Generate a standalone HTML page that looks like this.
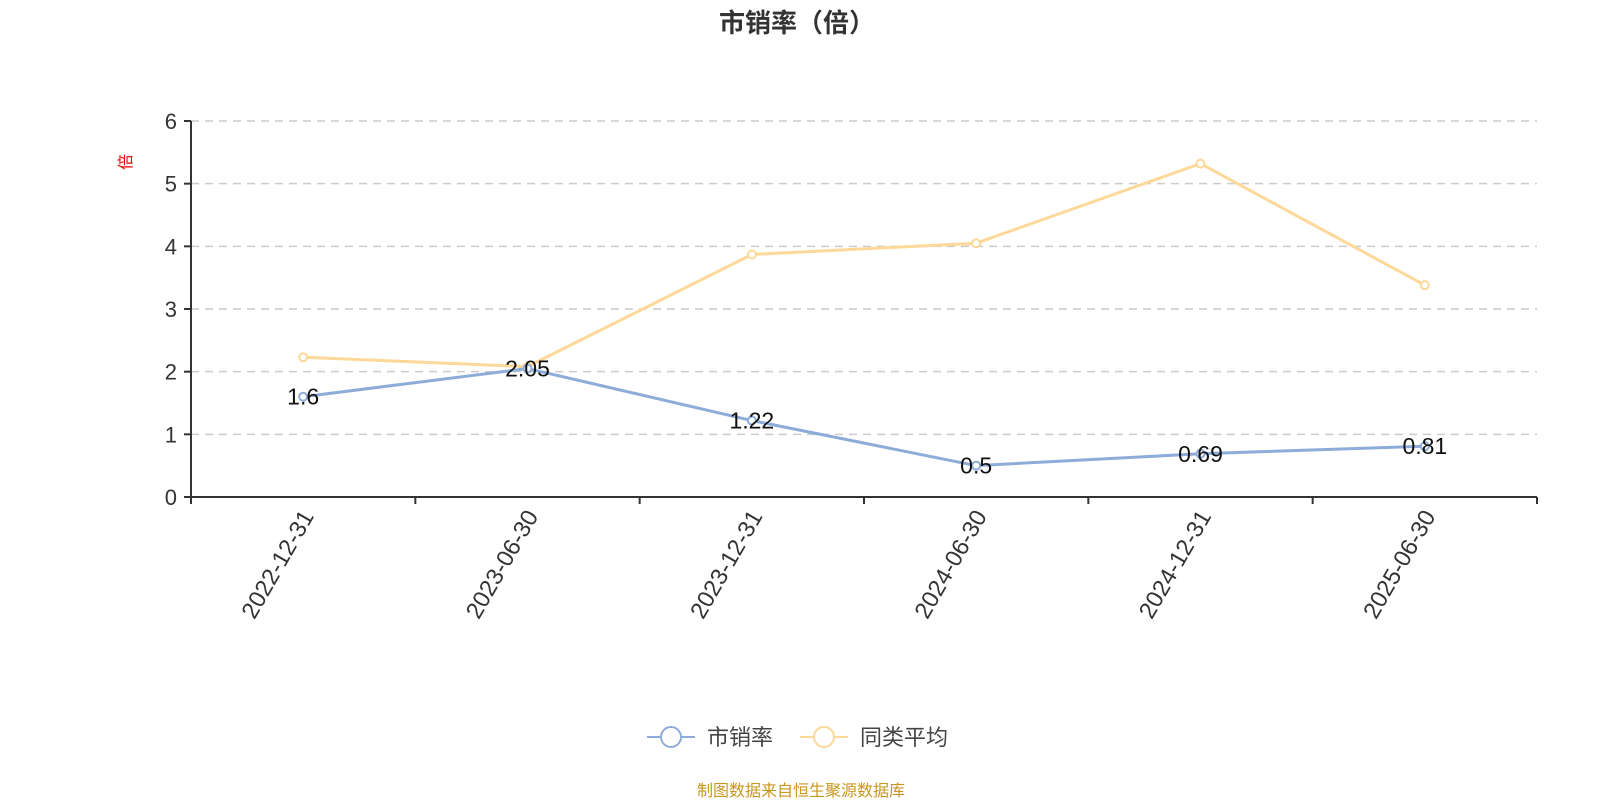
<!DOCTYPE html>
<html><head><meta charset="utf-8"><style>
body{margin:0;background:#fff;}
svg{display:block;font-family:"Liberation Sans","Noto Sans CJK SC",sans-serif;}
</style></head><body>
<svg id="chart" width="1600" height="800" viewBox="0 0 1600 800" xmlns="http://www.w3.org/2000/svg">
<text x="797" y="32" text-anchor="middle" font-size="26" font-weight="bold" fill="#333">市销率（倍）</text>
<text transform="translate(131,162) rotate(-90)" text-anchor="middle" font-size="16" fill="#e00">倍</text>
<g id="grid"></g><g id="axes"></g><g id="series"></g>
<g>
<g>
<line x1="647" y1="737" x2="695" y2="737" stroke="#8eacd9" stroke-width="2"/>
<circle cx="671" cy="737" r="10" fill="#fff" stroke="#8eacd9" stroke-width="2"/>
<text x="707" y="745" font-size="22" fill="#444">市销率</text></g>
<g>
<line x1="800" y1="737" x2="848" y2="737" stroke="#fdd898" stroke-width="2"/>
<circle cx="824" cy="737" r="10" fill="#fff" stroke="#fdd898" stroke-width="2"/>
<text x="860" y="745" font-size="22" fill="#444">同类平均</text></g>
</g>
<text x="801" y="796" text-anchor="middle" font-size="16" fill="#c8961e">制图数据来自恒生聚源数据库</text>
</svg>
<script>
const categories=["2022-12-31","2023-06-30","2023-12-31","2024-06-30","2024-12-31","2025-06-30"];
const psValues=[1.6,2.05,1.22,0.5,0.69,0.81];
const avgValues=[2.23,2.08,3.87,4.05,5.32,3.38];
const yTicks=[0,1,2,3,4,5,6];
const NS="http://www.w3.org/2000/svg";
const L=191,R=1537,T=121,B=497,yMax=6;
const band=(R-L)/categories.length;
const xs=i=>L+band*(i+0.5);
const ys=v=>B-(v/yMax)*(B-T);
function mk(tag,attrs,parent,txt){const e=document.createElementNS(NS,tag);for(const k in attrs)e.setAttribute(k,attrs[k]);if(txt!==undefined)e.textContent=txt;parent.appendChild(e);return e;}
const grid=document.getElementById('grid'),axes=document.getElementById('axes'),series=document.getElementById('series');
yTicks.forEach(t=>{
  if(t>0){const g=mk('line',{x1:L,x2:R,y1:ys(t),y2:ys(t),stroke:'#ccc','stroke-width':1.5,'stroke-dasharray':'8,6'},grid);
  
  }
  const tk=mk('line',{x1:L-7,x2:L,y1:ys(t),y2:ys(t),stroke:'#333','stroke-width':2},axes);
  
  
  const lb=mk('text',{x:L-14,y:ys(t)+8,'text-anchor':'end','font-size':22,fill:'#333'},axes,String(t));
  
  
});
const ya=mk('line',{x1:L,x2:L,y1:T,y2:B,stroke:'#333','stroke-width':2},axes);


const xa=mk('line',{x1:L,x2:R,y1:B,y2:B,stroke:'#333','stroke-width':2},axes);


for(let i=0;i<=categories.length;i++){
  const tk=mk('line',{x1:L+band*i,x2:L+band*i,y1:B,y2:B+7,stroke:'#333','stroke-width':2},axes);
  
  
}
categories.forEach((c,i)=>{
  const x=xs(i),y=B+16;
  const lb=mk('text',{transform:`translate(${x+6},${y}) rotate(-60)`,'text-anchor':'end','dominant-baseline':'middle','font-size':23.5,fill:'#333'},axes,c);
  
  
});
function drawSeries(vals,color,name,labels){
  const p=mk('polyline',{points:vals.map((v,i)=>xs(i)+','+ys(v)).join(' '),fill:'none',stroke:color,'stroke-width':3,'stroke-linejoin':'round'},series);
  
  
  vals.forEach((v,i)=>{
    const c=mk('circle',{cx:xs(i),cy:ys(v),r:4,fill:'#fff',stroke:color,'stroke-width':2},series);
    
    
  });
  if(labels)vals.forEach((v,i)=>{
    const t=mk('text',{x:xs(i),y:ys(v)+8,'text-anchor':'middle','font-size':23,fill:'#111'},series,String(v));
    
    
  });
}
drawSeries(avgValues,'#fdd898','avg',false);
drawSeries(psValues,'#8eacd9','ps',true);
</script>
</body></html>
